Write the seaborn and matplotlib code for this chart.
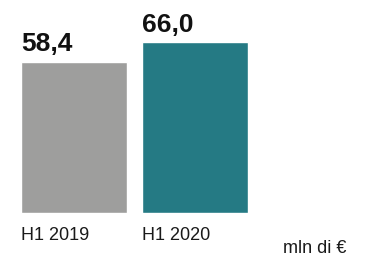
import matplotlib
matplotlib.use("Agg")
import matplotlib.pyplot as plt
import seaborn as sns
import pandas as pd

# data
periods = ["H1 2019", "H1 2020"]
values = [58.4, 66.0]
value_labels = ["58,4", "66,0"]
bar_colors = ["#9e9e9d", "#257a84"]
unit_label = "mln di €"

df = pd.DataFrame({"period": periods, "value": values})

sns.set_style("white")
plt.rcParams["font.family"] = ["Liberation Sans", "DejaVu Sans"]

W, H = 382, 258
fig = plt.figure(figsize=(W / 100, H / 100), dpi=100)
# axes placed so bars land where the reference puts them
ax = fig.add_axes([13.5 / W, 45 / H, 242 / W, 207 / H])

bar_w = 0.876
sns.barplot(data=df, x="period", y="value", hue="period", palette=bar_colors,
            width=bar_w, dodge=False, legend=False, saturation=1, ax=ax)
ax.set_xlim(-0.5, 1.5)
ax.set_ylim(0, 80)
ax.axis("off")

for i, (v, lab, per) in enumerate(zip(values, value_labels, periods)):
    left = i - bar_w / 2
    # value above bar, left aligned with bar
    ax.annotate(lab, xy=(left, v), xytext=(0, 7.5), textcoords="offset points",
                ha="left", va="baseline", fontsize=19, fontweight="bold",
                color="#111111")
    # category label below bar
    ax.annotate(per, xy=(left, 0), xytext=(0, -19.5), textcoords="offset points",
                ha="left", va="baseline", fontsize=13, color="#1a1a1a",
                annotation_clip=False)

fig.text(283 / W, 5 / H, unit_label, ha="left", va="baseline", fontsize=13,
         color="#1a1a1a")

fig.savefig("out.png", dpi=100, facecolor="white")
